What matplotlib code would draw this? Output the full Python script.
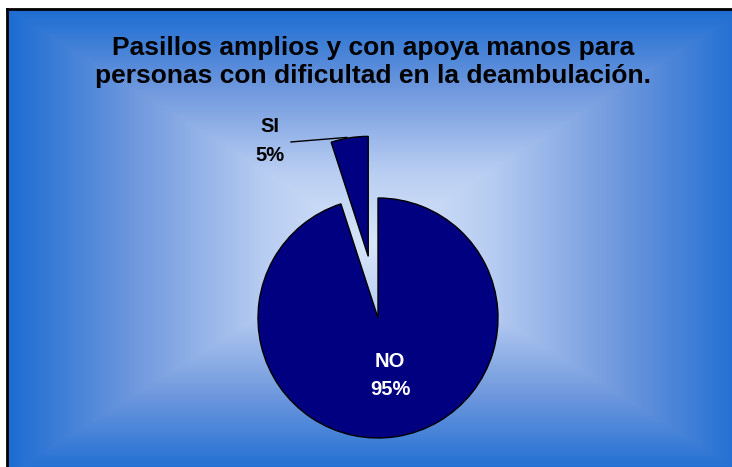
import numpy as np
import matplotlib
matplotlib.use('Agg')
import matplotlib.pyplot as plt
from matplotlib.colors import LinearSegmentedColormap

# Datos
categorias = ['NO', 'SI']
porcentajes = [95, 5]
titulo = 'Pasillos amplios y con apoya manos para\npersonas con dificultad en la deambulación.'

plt.rcParams['font.family'] = ['Liberation Sans', 'DejaVu Sans']

W, H = 732, 467
fig = plt.figure(figsize=(W / 100, H / 100), dpi=100)
fig.patch.set_facecolor('white')

# Fondo con degradado rectangular (centro claro, bordes azules)
bg = fig.add_axes([7 / W, -0.02, 1 - 7 / W + 0.02, (H - 9) / H + 0.02])
ny, nx = 300, 480
yy, xx = np.mgrid[0:ny, 0:nx]
dx = np.minimum(xx, nx - 1 - xx) / (nx / 2)
dy = np.minimum(yy, ny - 1 - yy) / (ny / 2)
t = np.minimum(dx, dy)
cmap = LinearSegmentedColormap.from_list(
    'fondo', [(0.0, '#1c6cd2'), (0.35, '#7099de'), (0.7, '#b8cdf2'), (1.0, '#d8e6f9')])
bg.imshow(t, cmap=cmap, aspect='auto', extent=[0, 1, 0, 1], origin='lower')
bg.set_xlim(0, 1)
bg.set_ylim(0, 1)
bg.set_xticks([])
bg.set_yticks([])
for s in ['right', 'bottom']:
    bg.spines[s].set_visible(False)
for s in ['left', 'top']:
    bg.spines[s].set_linewidth(2)
    bg.spines[s].set_color('black')

# Titulo
fig.text(373 / W, 1 - 62 / H, titulo, ha='center', va='center', fontsize=19,
         fontweight='bold', color='black', linespacing=1.25)

# Pastel
R = 120
cx, cy = 378, H - 318
half = 200
ax = fig.add_axes([(cx - half) / W, (cy - half) / H, 2 * half / W, 2 * half / H])
wedges, _ = ax.pie(porcentajes, startangle=108, counterclock=True,
                   explode=[0, 0.52], colors=['#000080', '#000080'],
                   wedgeprops=dict(edgecolor='black', linewidth=1))
lim = half / R
ax.set_xlim(-lim, lim)
ax.set_ylim(-lim, lim)
ax.set_aspect('equal')
ax.axis('off')

etiquetas = [f'{c}\n{p:.0f}%' for c, p in zip(categorias, porcentajes)]
ax.text(0.1, -0.48, etiquetas[0], ha='center', va='center', fontsize=14.5,
        fontweight='bold', color='white', linespacing=1.65)
ax.text(-0.9, 1.475, etiquetas[1], ha='center', va='center', fontsize=14.5,
        fontweight='bold', color='black', linespacing=1.65)
ax.plot([-0.725, -0.26], [1.467, 1.505], color='black', linewidth=1)

plt.savefig('out.png', dpi=100)
